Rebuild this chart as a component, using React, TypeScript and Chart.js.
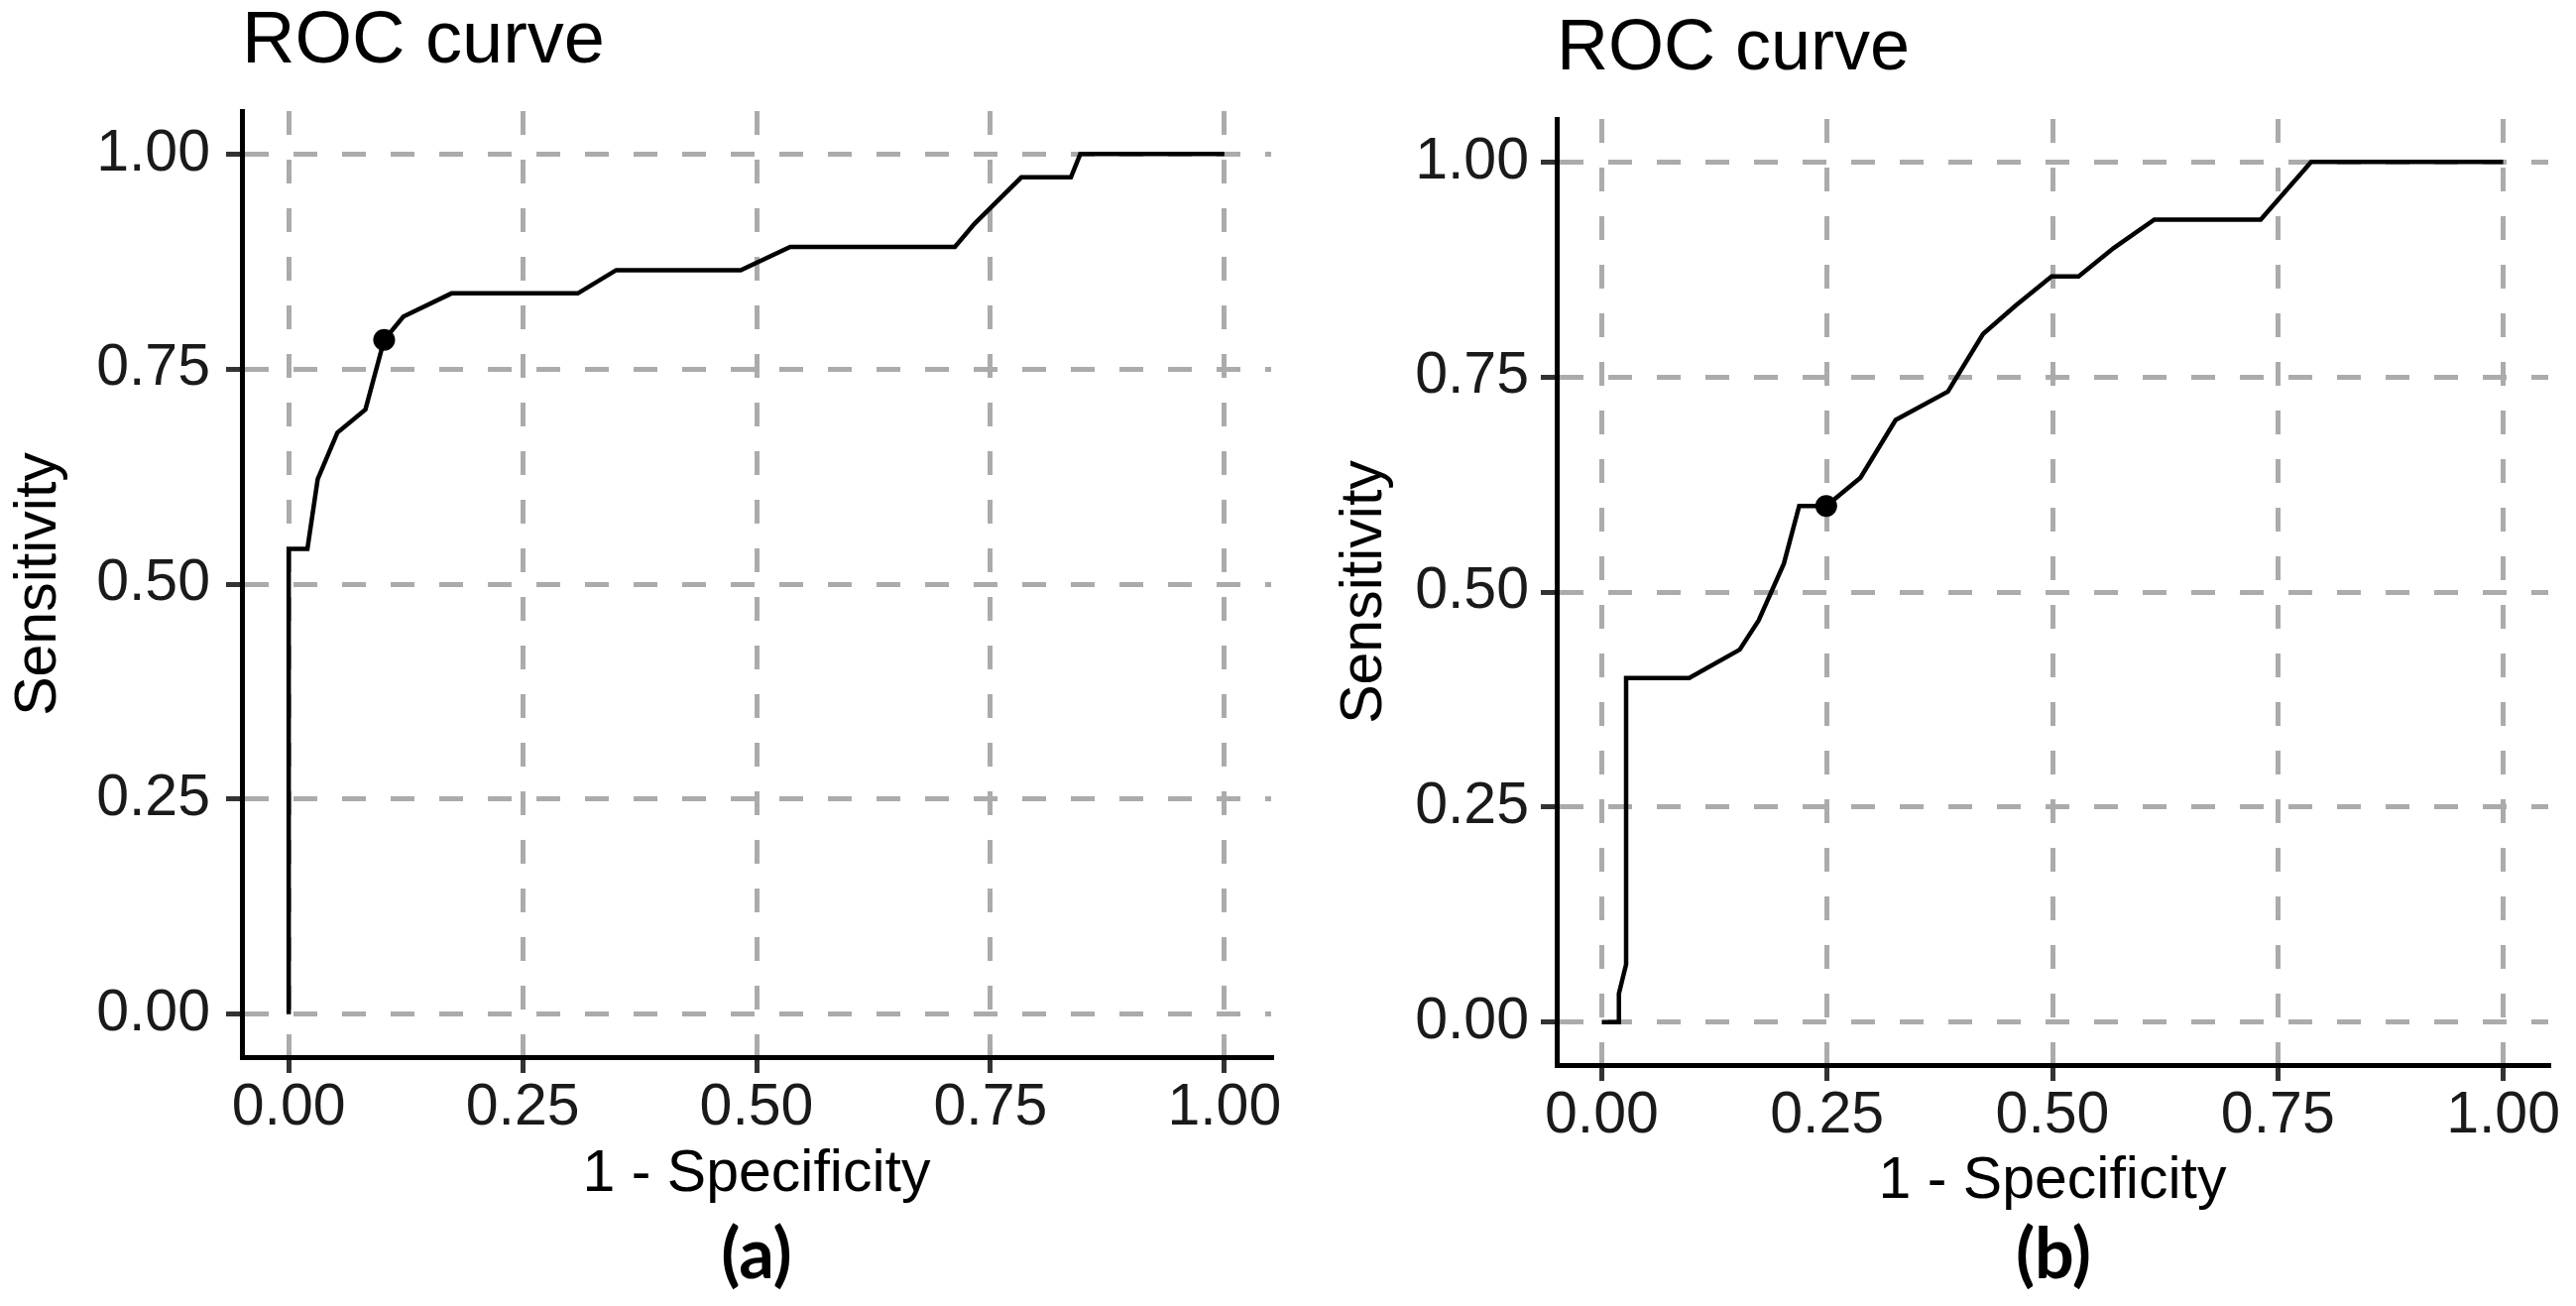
import React, { useEffect, useRef } from 'react';
import { Chart, registerables } from 'chart.js';

Chart.register(...registerables);

// ---- data ----
const TICK_VALUES = [0, 0.25, 0.5, 0.75, 1];
const TICK_LABELS = ['0.00', '0.25', '0.50', '0.75', '1.00'];

const CHART_TITLE = 'ROC curve';
const X_TITLE = '1 - Specificity';
const Y_TITLE = 'Sensitivity';
const PANEL_LABELS = ['(a)', '(b)'];

// panel (a)
const fprA = [0, 0, 0.02, 0.031, 0.052, 0.082, 0.102, 0.1225, 0.174, 0.309, 0.35, 0.483, 0.536, 0.712, 0.733, 0.783, 0.836, 0.846, 1];
const tprA = [0, 0.541, 0.541, 0.622, 0.676, 0.703, 0.784, 0.811, 0.838, 0.838, 0.865, 0.865, 0.892, 0.892, 0.919, 0.973, 0.973, 1, 1];
const cutFprA = [0.102];
const cutTprA = [0.784];

// panel (b)
const fprB = [0, 0.019, 0.019, 0.027, 0.027, 0.097, 0.153, 0.174, 0.202, 0.219, 0.249, 0.287, 0.326, 0.384, 0.423, 0.459, 0.499, 0.529, 0.568, 0.613, 0.731, 0.787, 1];
const tprB = [0, 0, 0.033, 0.067, 0.4, 0.4, 0.433, 0.467, 0.533, 0.6, 0.6, 0.633, 0.7, 0.733, 0.8, 0.833, 0.867, 0.867, 0.9, 0.933, 0.933, 1, 1];
const cutFprB = [0.249];
const cutTprB = [0.6];

// ---- layout / style ----
const FONT = "'Liberation Sans', Arial, Helvetica, sans-serif";

type Panel = {
  fpr: number[];
  tpr: number[];
  cutFpr: number[];
  cutTpr: number[];
  label: string;
  left: number;
  width: number;
  yAxisWidth: number;
  xAxisHeight: number;
  padRight: number;
  padBottom: number;
  titleSize: number;
  titlePadTop: number;
  titlePadBottom: number;
  yTitlePad: number;
  yTickPad: number;
  labelCenterX: number;
};

const PANELS: Panel[] = [
  {
    fpr: fprA, tpr: tprA, cutFpr: cutFprA, cutTpr: cutTprA, label: PANEL_LABELS[0],
    left: 0, width: 1300, yAxisWidth: 244, xAxisHeight: 154, padRight: 18, padBottom: 97,
    titleSize: 74, titlePadTop: 0, titlePadBottom: 26.9, yTitlePad: 4.6, yTickPad: 16, labelCenterX: 763,
  },
  {
    fpr: fprB, tpr: tprB, cutFpr: cutFprB, cutTpr: cutTprB, label: PANEL_LABELS[1],
    left: 1300, width: 1298, yAxisWidth: 270, xAxisHeight: 153, padRight: 28, padBottom: 90,
    titleSize: 72, titlePadTop: 8.5, titlePadBottom: 28.7, yTitlePad: 41.6, yTickPad: 12, labelCenterX: 2071,
  },
];

const HEIGHT = 1317;
const GRID_COLOR = '#ababab';
const TICK_FONT_SIZE = 59;

function RocPanel({ p }: { p: Panel }) {
  const ref = useRef<HTMLCanvasElement | null>(null);
  useEffect(() => {
    if (!ref.current) return;
    const curve = p.fpr.map((x, i) => ({ x, y: p.tpr[i] }));
    const cut = p.cutFpr.map((x, i) => ({ x, y: p.cutTpr[i] }));
    const setTicks = (s: any) => {
      s.ticks = TICK_VALUES.map((v) => ({ value: v }));
    };
    const fmt = (v: any) => {
      const i = TICK_VALUES.indexOf(Number(v));
      return i >= 0 ? TICK_LABELS[i] : '';
    };
    const common = {
      type: 'linear' as const,
      min: -0.05,
      max: 1.05,
      afterBuildTicks: setTicks,
      grid: {
        color: GRID_COLOR,
        lineWidth: 5,
        tickLength: 16,
        tickColor: '#333333',
        tickWidth: 5,
        drawTicks: true,
      },
      border: { display: true, color: '#000000', width: 5, dash: [24, 25] },
    };
    const tickFont = { family: FONT, size: TICK_FONT_SIZE, lineHeight: 1.2 };
    const chart = new Chart(ref.current, {
      type: 'line',
      data: {
        datasets: [
          {
            data: cut,
            showLine: false,
            pointRadius: 11,
            pointBackgroundColor: '#000000',
            pointBorderColor: '#000000',
            pointBorderWidth: 0,
          },
          {
            data: curve,
            borderColor: '#000000',
            borderWidth: 4.5,
            pointRadius: 0,
            tension: 0,
            fill: false,
          },
        ],
      },
      options: {
        animation: false,
        responsive: true,
        maintainAspectRatio: false,
        layout: { padding: { left: 0, top: 0, right: p.padRight, bottom: p.padBottom } },
        plugins: {
          legend: { display: false },
          tooltip: { enabled: false },
          title: {
            display: true,
            text: CHART_TITLE,
            align: 'start',
            fullSize: false,
            color: '#000000',
            font: { family: FONT, size: p.titleSize, weight: 'normal', lineHeight: 1.15 },
            padding: { top: p.titlePadTop, bottom: p.titlePadBottom },
          },
        },
        scales: {
          x: {
            ...common,
            position: 'bottom',
            afterFit: (s: any) => {
              s.height = p.xAxisHeight;
            },
            ticks: {
              callback: fmt,
              color: '#1a1a1a',
              padding: 0,
              maxRotation: 0,
              autoSkip: false,
              font: tickFont,
            },
            title: {
              display: true,
              text: X_TITLE,
              color: '#000000',
              padding: { top: 0, bottom: 0 },
              font: tickFont,
            },
          },
          y: {
            ...common,
            position: 'left',
            afterFit: (s: any) => {
              s.width = p.yAxisWidth;
            },
            ticks: {
              callback: fmt,
              color: '#1a1a1a',
              padding: p.yTickPad,
              autoSkip: false,
              font: tickFont,
            },
            title: {
              display: true,
              text: Y_TITLE,
              color: '#000000',
              padding: { top: p.yTitlePad, bottom: 0 },
              font: tickFont,
            },
          },
        },
      } as any,
    });
    return () => chart.destroy();
  }, [p]);

  return (
    <>
      <div style={{ position: 'absolute', left: p.left, top: 0, width: p.width, height: HEIGHT }}>
        <canvas ref={ref} />
      </div>
      <div
        style={{
          position: 'absolute',
          left: p.labelCenterX - 150,
          width: 300,
          top: 1227,
          textAlign: 'center',
          fontFamily: "Lato, 'Open Sans', sans-serif",
          fontWeight: 700,
          fontSize: 70,
          lineHeight: '70px',
          color: '#000',
        }}
      >
        {p.label}
      </div>
    </>
  );
}

export default function App() {
  return (
    <div
      style={{
        position: 'absolute',
        left: 0,
        top: 0,
        width: 2598,
        height: HEIGHT,
        background: '#ffffff',
        overflow: 'hidden',
      }}
    >
      {PANELS.map((p, i) => (
        <RocPanel key={i} p={p} />
      ))}
    </div>
  );
}
